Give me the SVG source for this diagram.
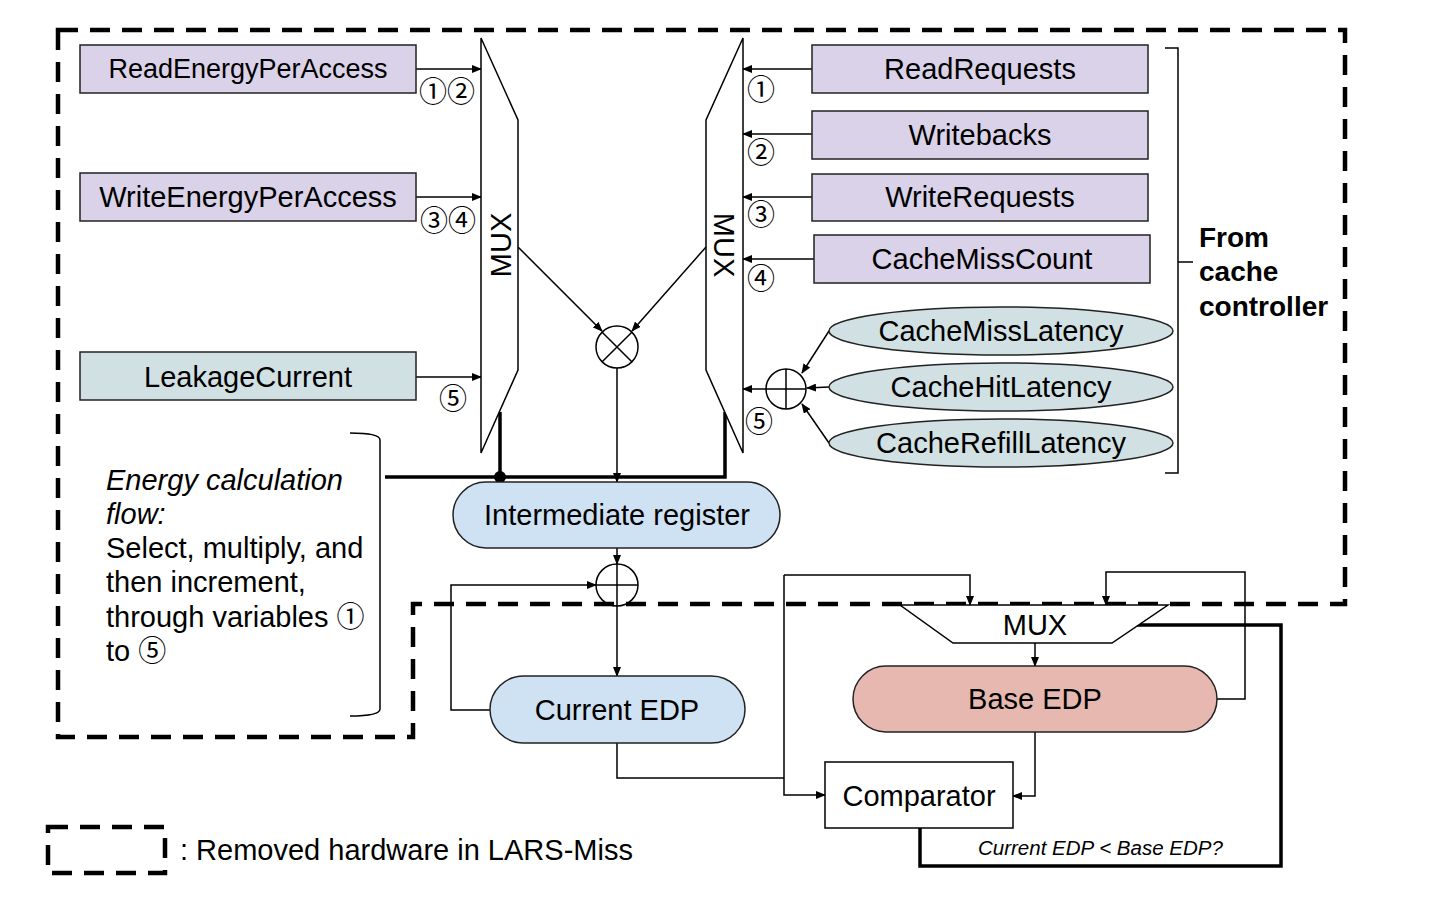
<svg xmlns="http://www.w3.org/2000/svg" width="1436" height="917" viewBox="0 0 1436 917">
<defs>
<marker id="ah" markerWidth="10" markerHeight="8" refX="9" refY="4" orient="auto" markerUnits="userSpaceOnUse">
<path d="M0,0 L10,4 L0,8 z" fill="#000"/>
</marker>
<style>
text{font-family:"Liberation Sans",Arial,"DejaVu Sans",sans-serif;fill:#000}
.t{font-size:29px;text-anchor:middle;dominant-baseline:central}
.c{font-family:"Noto Sans CJK JP","Noto Sans CJK SC","DejaVu Sans",sans-serif;font-size:28px;text-anchor:middle;dominant-baseline:central}
.cj{font-family:"Noto Sans CJK JP","Noto Sans CJK SC","DejaVu Sans",sans-serif;font-size:28px}
.b{stroke:#222;stroke-width:1.5}
.lav{fill:#d9d2e9}
.tea{fill:#d0e0e3}
.blu{fill:#cfe2f3}
.pnk{fill:#e6b8af}
.ln{fill:none;stroke:#000;stroke-width:1.5}
.ar{fill:none;stroke:#000;stroke-width:1.5;marker-end:url(#ah)}
.thk{fill:none;stroke:#000;stroke-width:3.5}
.dash{fill:none;stroke:#000;stroke-width:4.5;stroke-dasharray:20 12}
</style>
</defs>
<rect width="1436" height="917" fill="#fff"/>

<path class="dash" d="M58,30 L1345,30 L1345,604 L413,604 L413,737 L58,737 Z"/>

<g id="connectors">
<line class="ar" x1="416" y1="69" x2="481" y2="69"/>
<line class="ar" x1="416" y1="197" x2="481" y2="197"/>
<line class="ar" x1="416" y1="377" x2="481" y2="377"/>
<line class="ar" x1="812" y1="69" x2="743" y2="69"/>
<line class="ar" x1="812" y1="134" x2="743" y2="134"/>
<line class="ar" x1="812" y1="197" x2="743" y2="197"/>
<line class="ar" x1="814" y1="259" x2="743" y2="259"/>
<line class="ar" x1="766" y1="389" x2="743" y2="389"/>
<line class="ar" x1="829" y1="331" x2="802" y2="373"/>
<line class="ar" x1="829" y1="387" x2="807" y2="388"/>
<line class="ar" x1="829" y1="443" x2="802" y2="404"/>
<line class="ar" x1="518" y1="247" x2="602" y2="331"/>
<line class="ar" x1="706" y1="247" x2="632" y2="331"/>
<line class="ar" x1="617" y1="368" x2="617" y2="482"/>
<polyline class="thk" points="500,412 500,477"/>
<polyline class="thk" points="385,477 725,477 725,412"/>
<circle cx="500" cy="477" r="6" fill="#000"/>
<line class="ar" x1="617" y1="548" x2="617" y2="564"/>
<line class="ar" x1="617" y1="606" x2="617" y2="676"/>
<polyline class="ar" points="490,710 451,710 451,585 596,585"/>
<polyline class="ln" points="617,743 617,778 784,778"/>
<polyline class="ar" points="784,575 784,795 825,795"/>
<polyline class="ar" points="784,575 970,575 970,605"/>
<line class="ar" x1="1035" y1="643" x2="1035" y2="666"/>
<polyline class="ar" points="1217,699 1245,699 1245,572 1106,572 1106,605"/>
<polyline class="ar" points="1035,732 1035,796 1013,796"/>
<polyline class="thk" points="920,828 920,866 1281,866 1281,625 1137,625"/>
<polyline class="ln" points="1165,48 1178,48 1178,473 1165,473"/>
<line class="ln" x1="1178" y1="262" x2="1193" y2="262"/>
<path class="ln" d="M350,433 Q380,433 380,440 L380,709 Q380,716 350,716"/>
</g>

<g id="mux-left">
<polygon points="481,38 518,120 518,370 481,453" fill="#fff" stroke="#000" stroke-width="1.5"/>
<text class="t" transform="translate(501,245) rotate(-90)">MUX</text>
</g>
<g id="mux-right">
<polygon points="743,38 706,120 706,370 743,453" fill="#fff" stroke="#000" stroke-width="1.5"/>
<text class="t" transform="translate(724,245) rotate(90)">MUX</text>
</g>

<g id="read-energy"><rect class="b lav" x="80" y="45" width="336" height="48"/><text class="t" x="248" y="69" style="font-size:27px">ReadEnergyPerAccess</text></g>
<g id="write-energy"><rect class="b lav" x="80" y="173" width="336" height="48"/><text class="t" x="248" y="197">WriteEnergyPerAccess</text></g>
<g id="leakage"><rect class="b tea" x="80" y="352" width="336" height="48"/><text class="t" x="248" y="377">LeakageCurrent</text></g>

<g id="read-req"><rect class="b lav" x="812" y="45" width="336" height="48"/><text class="t" x="980" y="69">ReadRequests</text></g>
<g id="writebacks"><rect class="b lav" x="812" y="111" width="336" height="48"/><text class="t" x="980" y="135">Writebacks</text></g>
<g id="write-req"><rect class="b lav" x="812" y="174" width="336" height="47"/><text class="t" x="980" y="197">WriteRequests</text></g>
<g id="miss-count"><rect class="b lav" x="814" y="235" width="336" height="48"/><text class="t" x="982" y="259">CacheMissCount</text></g>

<g id="miss-lat"><ellipse class="b tea" cx="1001" cy="331" rx="172" ry="24"/><text class="t" x="1001" y="331">CacheMissLatency</text></g>
<g id="hit-lat"><ellipse class="b tea" cx="1001" cy="387" rx="172" ry="24"/><text class="t" x="1001" y="387">CacheHitLatency</text></g>
<g id="refill-lat"><ellipse class="b tea" cx="1001" cy="443" rx="172" ry="24"/><text class="t" x="1001" y="443">CacheRefillLatency</text></g>

<g id="labels">
<text class="c" x="447" y="90">①②</text>
<text class="c" x="448" y="219">③④</text>
<text class="c" x="453" y="397">⑤</text>
<text class="c" x="761" y="88">①</text>
<text class="c" x="761" y="151">②</text>
<text class="c" x="761" y="213">③</text>
<text class="c" x="761" y="277">④</text>
<text class="c" x="759" y="420">⑤</text>
</g>

<g id="adder-right">
<circle cx="786" cy="389" r="20" fill="#fff" stroke="#000" stroke-width="1.5"/>
<path class="ln" d="M766,389 H806 M786,369 V409"/>
</g>
<g id="multiplier">
<circle cx="617" cy="347" r="21" fill="#fff" stroke="#000" stroke-width="1.5"/>
<path class="ln" d="M602.2,332.2 L631.8,361.8 M631.8,332.2 L602.2,361.8"/>
</g>

<g id="intermediate"><rect class="b blu" x="453" y="482" width="327" height="66" rx="33"/><text class="t" x="617" y="515">Intermediate register</text></g>

<g id="adder-mid">
<circle cx="617" cy="585" r="21" fill="none" stroke="#000" stroke-width="1.5"/>
<path class="ln" d="M596,585 H638 M617,564 V606"/>
</g>

<g id="current-edp"><rect class="b blu" x="490" y="676" width="255" height="67" rx="33.5"/><text class="t" x="617" y="710">Current EDP</text></g>

<g id="mux-bottom">
<polygon points="900,605 1168,605 1112,643 953,643" fill="#fff" stroke="#000" stroke-width="1.5"/>
<text class="t" x="1035" y="625">MUX</text>
</g>
<g id="base-edp"><rect class="b pnk" x="853" y="666" width="364" height="66" rx="33"/><text class="t" x="1035" y="699">Base EDP</text></g>
<g id="comparator"><rect x="825" y="762" width="188" height="66" fill="#fff" stroke="#000" stroke-width="1.5"/><text class="t" x="919" y="796">Comparator</text></g>

<text x="978" y="855" style="font-size:20.5px;font-style:italic">Current EDP &lt; Base EDP?</text>

<g id="from-cache" style="font-size:28px;font-weight:bold">
<text x="1199" y="247">From</text>
<text x="1199" y="281">cache</text>
<text x="1199" y="316">controller</text>
</g>

<g id="flow-note" style="font-size:29px">
<text x="106" y="490" style="font-style:italic">Energy calculation</text>
<text x="106" y="524" style="font-style:italic">flow:</text>
<text x="106" y="558">Select, multiply, and</text>
<text x="106" y="592">then increment,</text>
<text x="106" y="627">through variables <tspan class="cj">①</tspan></text>
<text x="106" y="661">to <tspan class="cj">⑤</tspan></text>
</g>

<g id="legend">
<rect class="dash" x="48" y="827" width="117" height="46"/>
<text x="180" y="860" style="font-size:29px">: Removed hardware in LARS-Miss</text>
</g>
</svg>
